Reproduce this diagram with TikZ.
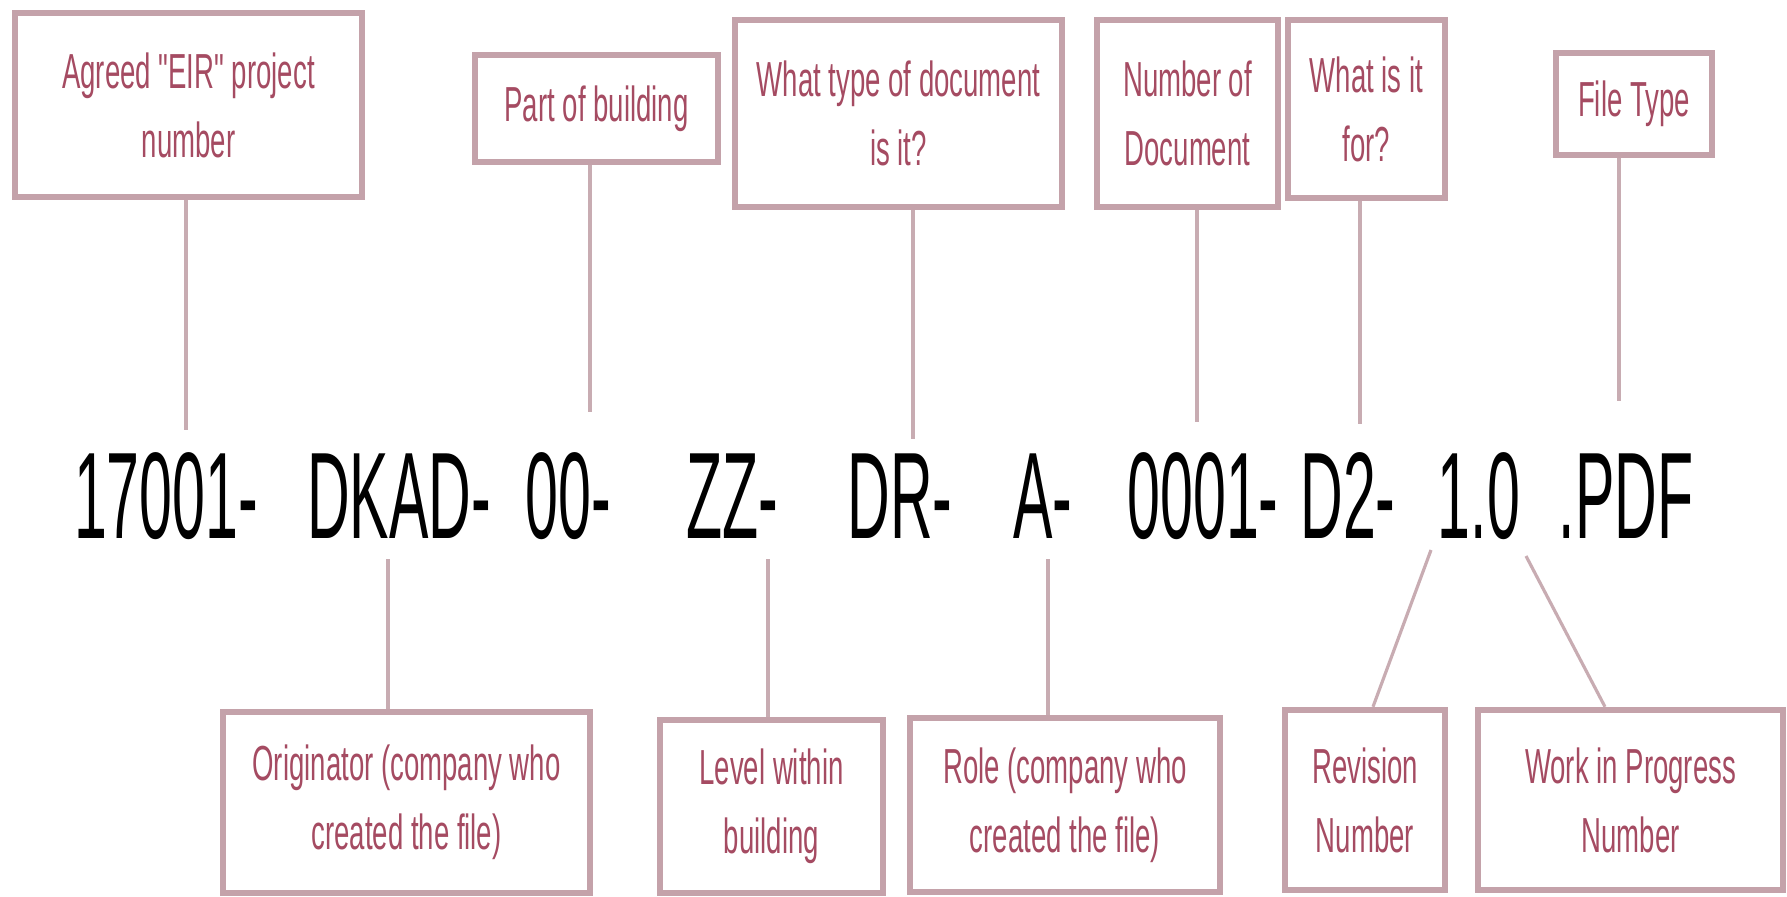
\documentclass[tikz,border=0pt]{standalone}
\usepackage{fontspec}
\setmainfont{Liberation Sans}
\newfontfamily\codefont[FakeStretch=0.48]{Liberation Sans}
\newfontfamily\boxfont[FakeStretch=0.56]{Liberation Sans}
\usetikzlibrary{positioning}
\definecolor{boxline}{RGB}{196,162,170}
\definecolor{boxtext}{RGB}{165,75,98}
\definecolor{linkline}{RGB}{200,172,178}
\tikzstyle{field}     = [draw=boxline, line width=1.8pt, fill=white, text=boxtext, align=center, inner sep=0pt, font=\boxfont\fontsize{14}{19.6}\selectfont]
\tikzstyle{code}      = [anchor=base, inner sep=0pt, font=\codefont\fontsize{35}{40}\selectfont]
\tikzstyle{link}      = [draw=linkline, line width=0.9pt]

\begin{document}
\begin{tikzpicture}[x=0.01cm,y=-0.01cm]
		\useasboundingbox (0,0) rectangle (1787,896);
		\fill[white] (0,0) rectangle (1787,896);

		% the file name
		\node[code] (proj) at (166,538) {17001-};
		\node[code] (orig) at (399,538) {DKAD-};
		\node[code] (zoneid) at (568,538) {00-};
		\node[code] (lvl) at (732,538) {ZZ-};
		\node[code] (typ) at (900,538) {DR-};
		\node[code] (rl) at (1043,538) {A-};
		\node[code] (num) at (1203,538) {0001-};
		\node[code] (suit) at (1348,538) {D2-};
		\node[code] (rev) at (1479,538) {1.0};
		\node[code] (ext) at (1626,538) {.PDF};

		% boxes above
		\node[field, minimum width=3.47cm, minimum height=1.84cm] (eir) at (188.5,105) {Agreed "EIR" project\\number};
		\node[field, minimum width=2.43cm, minimum height=1.07cm] (zone) at (596.5,108.5) {Part of building};
		\node[field, minimum width=3.27cm, minimum height=1.87cm] (doctype) at (898.5,113.5) {What type of document\\is it?};
		\node[field, minimum width=1.81cm, minimum height=1.87cm] (docnum) at (1187.5,113.5) {Number of\\Document};
		\node[field, minimum width=1.57cm, minimum height=1.78cm] (purpose) at (1366.5,109) {What is it\\for?};
		\node[field, minimum width=1.56cm, minimum height=1.02cm] (filetype) at (1634,104) {File Type};

		% boxes below
		\node[field, minimum width=3.67cm, minimum height=1.81cm] (originator) at (406.5,802.5) {Originator (company who\\created the file)};
		\node[field, minimum width=2.23cm, minimum height=1.73cm] (level) at (771.5,806.5) {Level within\\building};
		\node[field, minimum width=3.10cm, minimum height=1.74cm] (role) at (1065,805) {Role (company who\\created the file)};
		\node[field, minimum width=1.60cm, minimum height=1.80cm] (revision) at (1365,800) {Revision\\Number};
		\node[field, minimum width=3.05cm, minimum height=1.80cm] (wip) at (1630.5,800) {Work in Progress\\Number};

		% line ends near the text
		\coordinate (projtop) at (186,430);
		\coordinate (zonetop) at (590,412);
		\coordinate (typtop) at (913,439);
		\coordinate (numtop) at (1197,422);
		\coordinate (suittop) at (1360,424);
		\coordinate (exttop) at (1619,401);
		\coordinate (origbot) at (388,559);
		\coordinate (lvlbot) at (768,559);
		\coordinate (rlbot) at (1048,559);
		\coordinate (revbot) at (1431,550);
		\coordinate (wipbot) at (1526,556);

		\draw[link] (eir.south -| projtop) -- (projtop);
		\draw[link] (zone.south -| zonetop) -- (zonetop);
		\draw[link] (doctype.south -| typtop) -- (typtop);
		\draw[link] (docnum.south -| numtop) -- (numtop);
		\draw[link] (purpose.south -| suittop) -- (suittop);
		\draw[link] (filetype.south -| exttop) -- (exttop);

		\draw[link] (origbot) -- (originator.north -| origbot);
		\draw[link] (lvlbot) -- (level.north -| lvlbot);
		\draw[link] (rlbot) -- (role.north -| rlbot);
		\draw[link] (revbot) -- ([xshift=0.08cm]revision.north);
		\draw[link] (wipbot) -- ([xshift=-0.255cm]wip.north);
	\end{tikzpicture}
\end{document}
